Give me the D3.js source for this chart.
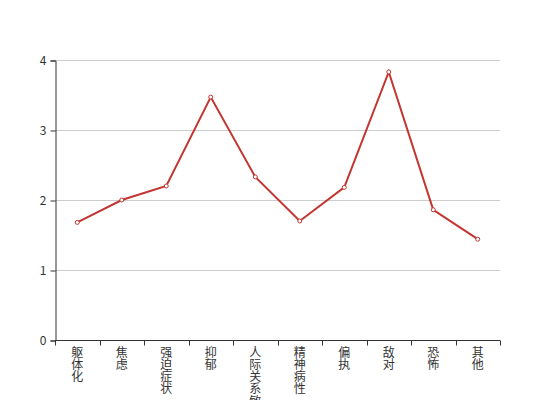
<!DOCTYPE html>
<html><head><meta charset="utf-8">
<script src="https://cdn.jsdelivr.net/npm/d3@7/dist/d3.min.js"></script>
<style>body{margin:0;background:#fff}svg{display:block}</style>
</head><body>
<svg id="c" width="556" height="400"></svg>
<script>
const categories = ["躯体化","焦虑","强迫症状","抑郁","人际关系敏感","精神病性","偏执","敌对","恐怖","其他"];
const values = [1.68, 2.0, 2.2, 3.47, 2.33, 1.70, 2.18, 3.83, 1.86, 1.44];
const yTicks = [0, 1, 2, 3, 4];

const svg = d3.select("#c");
const mLeft = 55, mRight = 500, mTop = 60, mBottom = 340;
const x = d3.scaleBand().domain(categories).range([mLeft, mRight]);
const y = d3.scaleLinear().domain([0, 4]).range([mBottom, mTop]);
const font = "'Noto Sans CJK SC', 'Noto Sans', sans-serif";

// grid
svg.append("g").selectAll("line").data(yTicks.filter(d => d > 0)).join("line")
  .attr("x1", mLeft).attr("x2", mRight)
  .attr("y1", d => Math.round(y(d)) + 0.5).attr("y2", d => Math.round(y(d)) + 0.5)
  .attr("stroke", "#ccc").attr("stroke-width", 1);

// y axis
const yAxis = svg.append("g").attr("transform", `translate(${mLeft + 0.5},0.5)`)
  .call(d3.axisLeft(y).tickValues(yTicks).tickSize(5).tickPadding(4).tickFormat(d3.format("d")));
yAxis.select(".domain").attr("stroke", "#333");
yAxis.selectAll(".tick line").attr("stroke", "#333");
yAxis.selectAll("text").attr("fill", "#333").style("font-family", font).style("font-size", "12px");

// x axis
const xg = svg.append("g").attr("transform", `translate(0,${mBottom + 0.5})`);
xg.append("line").attr("x1", mLeft).attr("x2", mRight).attr("stroke", "#333");
const bounds = categories.map(c => x(c)).concat([mRight]);
xg.selectAll("line.t").data(bounds).join("line").attr("class", "t")
  .attr("x1", d => Math.round(d) + 0.5).attr("x2", d => Math.round(d) + 0.5)
  .attr("y1", 0).attr("y2", 5).attr("stroke", "#333");
const lab = xg.selectAll("text").data(categories).join("text")
  .attr("x", d => x(d) + x.bandwidth() / 2)
  .attr("y", 16)
  .attr("text-anchor", "middle")
  .attr("fill", "#333")
  .style("font-family", font).style("font-size", "12px");
lab.each(function(d) {
  const t = d3.select(this);
  Array.from(d).forEach((ch, i) => {
    t.append("tspan").attr("x", x(d) + x.bandwidth() / 2).attr("dy", i === 0 ? 0 : 12.3).text(ch);
  });
});

// line
const cx = d => x(d) + x.bandwidth() / 2;
svg.append("path").datum(values)
  .attr("fill", "none").attr("stroke", "#c23531").attr("stroke-width", 2)
  .attr("d", d3.line().x((d, i) => cx(categories[i])).y(d => y(d)));
svg.append("g").selectAll("circle").data(values).join("circle")
  .attr("cx", (d, i) => cx(categories[i])).attr("cy", d => y(d)).attr("r", 2)
  .attr("fill", "#fff").attr("stroke", "#c23531").attr("stroke-width", 1);
</script>
</body></html>
